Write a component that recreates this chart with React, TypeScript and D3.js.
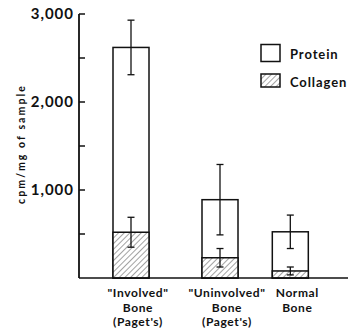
import * as d3 from 'd3';
import { ReactElement } from 'react';

// ─ Data ──────────────────────────────────────────────────────────────────────
const categories = ['Involved', 'Uninvolved', 'Normal'];
const categoryLabels = [
  ['"Involved"', 'Bone', "(Paget's)"],
  ['"Uninvolved"', 'Bone', "(Paget's)"],
  ['Normal', 'Bone'],
];
const proteinValues = [2620, 890, 525];
const proteinErrors = [310, 400, 190];
const collagenValues = [520, 230, 80];
const collagenErrors = [170, 105, 45];
const yTicks = [0, 500, 1000, 1500, 2000, 2500, 3000];
const yTickLabels = ['', '', '1,000', '', '2,000', '', '3,000'];

// layout: relative slot of each bar along the x axis
const barSlots = [0, 1, 1.79];

const W = 348;
const H = 329;
const FONT = 'Lato, "DejaVu Sans", sans-serif';

const App = (): ReactElement => {
  const axisX = 79;
  const baseY = 278;
  const barW = 36;

  const y = d3.scaleLinear().domain([0, 3000]).range([baseY, 14]);
  const x = d3.scaleLinear().domain([0, 1]).range([131, 220]);

  const errorBar = (cx: number, v: number, e: number, key: string) => (
    <g key={key} stroke="#111" strokeWidth={1.3}>
      <line x1={cx} x2={cx} y1={y(v + e)} y2={y(Math.max(0, v - e))} />
      <line x1={cx - 3.5} x2={cx + 3.5} y1={y(v + e)} y2={y(v + e)} />
      <line x1={cx - 3.5} x2={cx + 3.5} y1={y(Math.max(0, v - e))} y2={y(Math.max(0, v - e))} />
    </g>
  );

  return (
    <svg
      width={W}
      height={H}
      style={{ position: 'absolute', left: 0, top: 0, background: '#fff' }}
      fontFamily={FONT}
    >
      <defs>
        <pattern id="hatch" width={4} height={4} patternUnits="userSpaceOnUse" patternTransform="rotate(45)">
          <rect width={4} height={4} fill="#fff" />
          <line x1={0} y1={0} x2={0} y2={4} stroke="#333" strokeWidth={0.9} />
        </pattern>
      </defs>

      {/* bars */}
      {categories.map((c, i) => {
        const cx = x(barSlots[i]);
        return (
          <g key={c}>
            <rect
              x={cx - barW / 2}
              y={y(proteinValues[i])}
              width={barW}
              height={baseY - y(proteinValues[i])}
              fill="#fff"
              stroke="#111"
              strokeWidth={1.5}
            />
            <rect
              x={cx - barW / 2}
              y={y(collagenValues[i])}
              width={barW}
              height={baseY - y(collagenValues[i])}
              fill="url(#hatch)"
              stroke="#111"
              strokeWidth={1.5}
            />
            {errorBar(cx, proteinValues[i], proteinErrors[i], 'p')}
            {errorBar(cx, collagenValues[i], collagenErrors[i], 'c')}
            {categoryLabels[i].map((t, j) => (
              <text
                key={t + j}
                x={cx + 7}
                y={baseY + 19 + j * 14.5}
                textAnchor="middle"
                fontSize={12}
                fontWeight={700}
                letterSpacing={0.6}
                fill="#111"
              >
                {t}
              </text>
            ))}
          </g>
        );
      })}

      {/* axes */}
      <line x1={axisX} x2={axisX} y1={y(3000)} y2={baseY} stroke="#111" strokeWidth={1.8} />
      <line x1={axisX} x2={W} y1={baseY} y2={baseY} stroke="#111" strokeWidth={1.5} />
      {yTicks.map((t, i) => (
        <g key={t}>
          {t > 0 && (
            <line x1={axisX} x2={axisX + 6} y1={y(t)} y2={y(t)} stroke="#111" strokeWidth={1.5} />
          )}
          {yTickLabels[i] && (
            <text
              x={axisX - 5}
              y={y(t)}
              dy="0.35em"
              textAnchor="end"
              fontSize={15}
              fontWeight={700}
              letterSpacing={1}
              fill="#111"
            >
              {yTickLabels[i]}
            </text>
          )}
        </g>
      ))}
      <text
        transform={`translate(21, ${(y(3000) + baseY) / 2 - 2}) rotate(-90)`}
        textAnchor="middle"
        dy="0.35em"
        fontSize={10.5}
        fontWeight={700}
        letterSpacing={2.1}
        fill="#111"
      >
        cpm/mg of sample
      </text>

      {/* legend */}
      <rect x={261} y={44.5} width={19} height={17} fill="#fff" stroke="#111" strokeWidth={1.5} />
      <text x={290} y={59} fontSize={13} fontWeight={700} letterSpacing={0.9} fill="#111">Protein</text>
      <rect x={261} y={74} width={19} height={13} fill="url(#hatch)" stroke="#111" strokeWidth={1.5} />
      <text x={290} y={87} fontSize={13} fontWeight={700} letterSpacing={0.9} fill="#111">Collagen</text>
    </svg>
  );
};

export default App;
